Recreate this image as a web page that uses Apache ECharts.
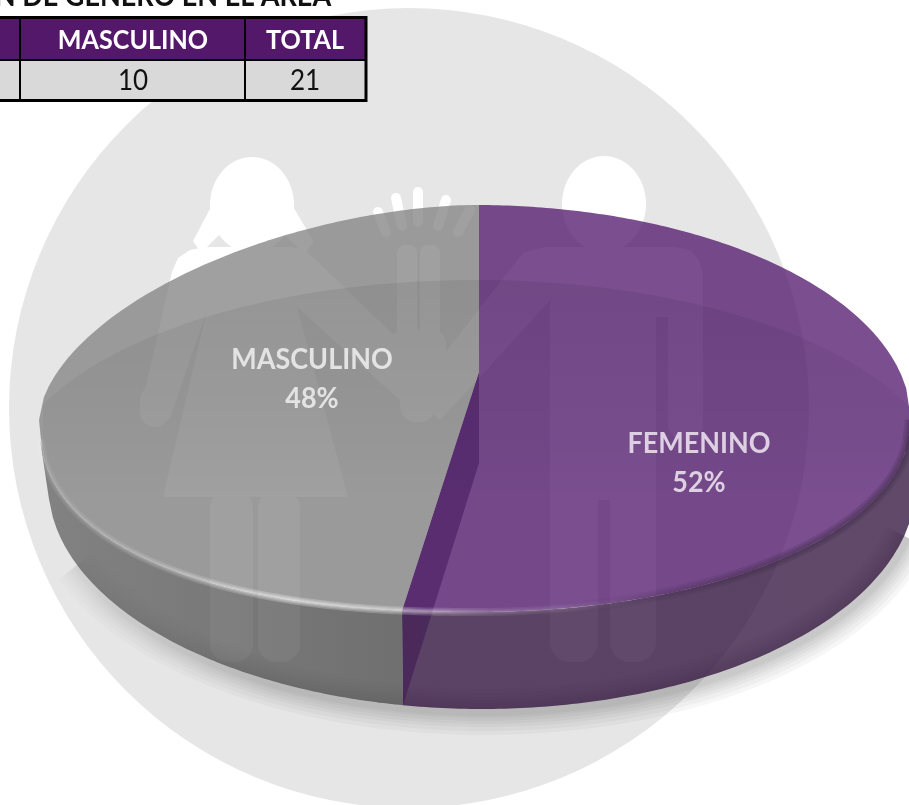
<!DOCTYPE html>
<html>
<head>
<meta charset="utf-8">
<style>html,body{margin:0;padding:0;background:#fff;overflow:hidden}#c{width:909px;height:805px}</style>
<script src="https://cdn.jsdelivr.net/npm/echarts@6/dist/echarts.min.js"></script>
</head>
<body>
<div id="c"></div>
<script>
var titleText = 'N DE GÉNERO EN EL ÁREA';
var categories = ['FEMENINO', 'MASCULINO'];
var values = [11, 10];
var tableHeaders = ['MASCULINO', 'TOTAL'];
var tableCells = ['10', '21'];

var FONT = 'Lato, Carlito, "Open Sans", sans-serif';
var total = values.reduce(function (a, b) { return a + b; }, 0);
var A = { x: 479, y: 372 };           // perspective centre of the disc
var T = { cx: 475, rx: 436, yc: 420, ru: 215, rl: 192 };
var B = { cx: 482, rx: 434, yc: 484, ry: 225 };
var K = 2.14;

function sup(s, p) { s = Math.min(1, Math.abs(s)); return Math.pow(Math.max(0, 1 - Math.pow(s, p)), 1 / p); }
function topUpper(x) { return T.yc - T.ru * sup((x - T.cx) / T.rx, x < T.cx ? 1.75 : 2); }
function topLower(x) { return T.yc + T.rl * sup((x - T.cx) / T.rx, x < T.cx ? 2.3 : 2.05); }
function botLower(x) { return B.yc + B.ry * sup((x - B.cx) / B.rx, 2); }
function range(a, b, n) { var r = [], i; for (i = 0; i <= n; i++) r.push(a + (b - a) * i / n); return r; }
var X0 = T.cx - T.rx, X1 = T.cx + T.rx, BX0 = 49, BX1 = 916;

function splitX() {
  var th = values[0] / total * 2 * Math.PI, x = A.x, i;
  var t = Math.tan(th);
  for (i = 0; i < 5; i++) x = A.x - K * t * (topLower(x) - A.y);
  return x;
}
function grad(x0, y0, x1, y1, stops) { return new echarts.graphic.LinearGradient(x0, y0, x1, y1, stops, true); }
function poly(points, style, z2) { return { type: 'polygon', z2: z2 || 0, shape: { points: points }, style: style }; }
function line(points, style, z2) {
  style.fill = null;
  return { type: 'polyline', z2: z2 || 0, shape: { points: points }, style: style };
}
function up(xs) { return xs.map(function (x) { return [x, topUpper(x)]; }); }
function low(xs) { return xs.map(function (x) { return [x, topLower(x)]; }); }
function bot(xs) { return xs.map(function (x) { return [x, botLower(x)]; }); }
function softLine(pts, stopsFn, widths, z2) {
  return widths.map(function (w) {
    return line(pts, { stroke: stopsFn(), lineWidth: w, lineJoin: 'round' }, z2);
  });
}

function renderSlice(params, api) {
  var i = params.dataIndex, sx = splitX(), children = [];
  if (i === 0) {
    // soft cast shadow under the wall
    var shadowPts = bot(range(75, 905, 90)).map(function (p) { return [p[0] + 2, p[1] + 3]; });
    children = children.concat(softLine(shadowPts, function () {
      return grad(50, 0, 909, 0, [{ offset: 0, color: 'rgba(0,0,0,0.01)' }, { offset: 0.25, color: 'rgba(0,0,0,0.03)' }, { offset: 1, color: 'rgba(0,0,0,0.035)' }]);
    }, [46, 38, 30, 24, 18, 12, 8], 0));
    // right wall
    children.push(poly(low(range(sx, X1, 90)).concat(bot(range(BX1 - 6, sx + 1, 90))),
      { fill: grad(400, 0, 909, 0, [{ offset: 0, color: 'rgba(45,12,58,0.75)' }, { offset: 1, color: 'rgba(42,12,54,0.75)' }]) }, 1));
    // right top face
    children.push(poly([[A.x, A.y]].concat(up(range(A.x, X1, 90))).concat(low(range(X1, sx, 110))),
      { fill: 'rgba(78,19,105,0.75)' }, 2));
  } else {
    children.push(poly(low(range(X0 + 1, sx, 90)).concat(bot(range(sx + 1, BX0, 90))),
      { fill: grad(50, 0, 404, 0, [{ offset: 0, color: 'rgba(96,96,96,0.75)' }, { offset: 0.5, color: 'rgba(84,84,84,0.75)' }, { offset: 1, color: 'rgba(72,72,72,0.75)' }]) }, 1));
    children.push(poly([[A.x, A.y]].concat(low(range(sx, X0, 110))).concat(up(range(X0, A.x, 90))),
      { fill: 'rgba(128,128,128,0.75)' }, 2));
  }
  return { type: 'group', children: children };
}

function renderDecor() {
  var sx = splitX(), children = [];
  // subtle darker inner band of the top face
  var xs = range(X0 + 4, X1 - 1, 130);
  var band = xs.map(function (x) {
    var yy = 486 - 206 * sup((x - 475) / 470, 2);
    return [x, Math.max(yy, topUpper(x))];
  }).concat(low(xs.slice().reverse()));
  children.push(poly(band, { fill: grad(0, 280, 0, 500, [{ offset: 0, color: 'rgba(0,0,0,0.07)' }, { offset: 0.55, color: 'rgba(0,0,0,0.04)' }, { offset: 1, color: 'rgba(0,0,0,0)' }]) }));
  // cut face of the purple slice
  children.push(poly([[A.x, A.y], [sx, topLower(sx)], [sx + 1, botLower(sx + 1)], [A.x, A.y + 91]],
    { fill: 'rgba(52,10,78,0.42)' }, 1));
  // dark soft edge, right part of the rim
  children = children.concat(softLine(low(range(560, X1, 90)), function () {
    return grad(560, 0, 780, 0, [{ offset: 0, color: 'rgba(55,35,65,0)' }, { offset: 1, color: 'rgba(60,40,70,0.2)' }]);
  }, [12, 8, 4], 2));
  // bright bevel of the rim
  children = children.concat(softLine(low(range(X0 + 1, 640, 150)), function () {
    return grad(40, 0, 640, 0, [
      { offset: 0, color: 'rgba(255,255,255,0.05)' }, { offset: 0.2, color: 'rgba(255,255,255,0.1)' },
      { offset: 0.42, color: 'rgba(255,255,255,0.24)' }, { offset: 0.6, color: 'rgba(255,255,255,0.2)' },
      { offset: 0.75, color: 'rgba(255,255,255,0.08)' }, { offset: 1, color: 'rgba(255,255,255,0)' }]);
  }, [8, 5, 2.5], 3));
  return { type: 'group', children: children };
}

var labelAnchors = [[699, 463], [312, 379]];
var labelColors = ['#ddd0e2', '#e3e3e3'];
function renderLabel(params, api) {
  var i = params.dataIndex;
  var pct = Math.round(api.value(0) / total * 100) + '%';
  var mk = function (t, dy) {
    return { type: 'text', x: labelAnchors[i][0], y: labelAnchors[i][1] + dy, scaleX: 0.93, style: { text: t, x: 0, y: 0, align: 'center', verticalAlign: 'middle', fill: labelColors[i], font: 'bold 29px ' + FONT } };
  };
  return { type: 'group', children: [mk(categories[i], -19), mk(pct, 20)] };
}

var W = '#ffffff';
function rr(x, y, w, h, r) { return { type: 'rect', z: 1, shape: { x: x, y: y, width: w, height: h, r: r }, style: { fill: W } }; }
function pg(points) { return { type: 'polygon', z: 1, shape: { points: points }, style: { fill: W } }; }
function finger(x1, y1, x2, y2, w) { return { type: 'line', z: 1, shape: { x1: x1, y1: y1, x2: x2, y2: y2 }, style: { stroke: W, lineWidth: w, lineCap: 'round' } }; }

var backdrop = [
  { type: 'circle', z: 0, shape: { cx: 409, cy: 408, r: 400 }, style: { fill: '#e6e6e6' } },
  // girl
  { type: 'ellipse', z: 1, shape: { cx: 252, cy: 205, rx: 42, ry: 48 }, style: { fill: W } },
  pg([[212, 205], [193, 241], [201, 253], [228, 226]]),
  pg([[292, 205], [314, 242], [304, 254], [276, 226]]),
  pg([[205, 247], [290, 247], [305, 250], [318, 262], [432, 372], [402, 402], [297, 307], [348, 497], [163, 497], [207, 310], [170, 418], [140, 412], [172, 272], [178, 258], [190, 250]]),
  rr(140, 385, 30, 42, 15),
  rr(210, 490, 43, 172, 18),
  rr(258, 490, 42, 172, 18),
  // joined hands
  rr(397, 245, 20, 105, 8),
  rr(420, 245, 20, 105, 8),
  rr(390, 330, 56, 44, 14),
  rr(400, 378, 36, 44, 16),
  finger(378, 212, 386, 232, 10),
  finger(396, 198, 402, 226, 10),
  finger(418, 192, 418, 222, 10),
  finger(446, 200, 438, 226, 10),
  finger(470, 210, 458, 232, 10),
  // boy
  { type: 'ellipse', z: 1, shape: { cx: 604, cy: 204, rx: 42, ry: 48 }, style: { fill: W } },
  pg([[545, 247], [675, 247], [690, 250], [699, 260], [703, 275], [703, 430], [668, 430], [668, 317], [656, 317], [656, 500], [550, 500], [550, 300], [480, 377], [440, 420], [412, 395], [523, 253]]),
  rr(668, 400, 35, 40, 16),
  rr(550, 450, 48, 212, 20),
  rr(610, 450, 46, 212, 20)
];

var INK = '#000000', HEAD = '#54186b', CELL = '#d9d9d9';
function gText(t, x, y, fill, font, va, sx) {
  return { type: 'text', z: 12, x: x, y: y, scaleX: sx, style: { text: t, x: 0, y: 0, align: 'center', verticalAlign: va || 'middle', fill: fill, font: font + ' ' + FONT } };
}
var tableEls = [
  gText(titleText, 163, 11, '#111', 'bold 30px', 'bottom', 0.9),
  { type: 'rect', z: 10, shape: { x: -2, y: 18, width: 367, height: 42 }, style: { fill: HEAD } },
  { type: 'rect', z: 10, shape: { x: -2, y: 60, width: 367, height: 40 }, style: { fill: CELL } },
  { type: 'rect', z: 11, shape: { x: -4, y: 17.5, width: 370, height: 83 }, style: { fill: null, stroke: INK, lineWidth: 3 } },
  { type: 'line', z: 11, shape: { x1: 0, y1: 60, x2: 366, y2: 60 }, style: { stroke: INK, lineWidth: 2 } },
  { type: 'line', z: 11, shape: { x1: 20, y1: 17, x2: 20, y2: 101 }, style: { stroke: INK, lineWidth: 2 } },
  { type: 'line', z: 11, shape: { x1: 245, y1: 17, x2: 245, y2: 101 }, style: { stroke: INK, lineWidth: 2 } },
  gText(tableHeaders[0], 133, 40, '#fff', 'bold 27px', 'middle', 0.93),
  gText(tableHeaders[1], 305, 40, '#fff', 'bold 27px', 'middle', 0.93),
  gText(tableCells[0], 133, 81, '#111', '28px', 'middle', 0.93),
  gText(tableCells[1], 305, 81, '#111', '28px', 'middle', 0.93)
];

var rows = categories.map(function (c, i) { return { name: c, value: [values[i]] }; });
var chart = echarts.init(document.getElementById('c'), null, { renderer: 'canvas' });
chart.setOption({
  animation: false,
  backgroundColor: '#ffffff',
  tooltip: { show: false },
  graphic: { elements: backdrop.concat(tableEls) },
  series: [
    { type: 'custom', name: 'slices', coordinateSystem: 'none', z: 2, silent: true, clip: false, renderItem: renderSlice, data: rows },
    { type: 'custom', name: 'decor', coordinateSystem: 'none', z: 3, silent: true, clip: false, renderItem: renderDecor, data: [rows[0]] },
    { type: 'custom', name: 'labels', coordinateSystem: 'none', z: 4, silent: true, clip: false, renderItem: renderLabel, data: rows }
  ]
});
</script>
</body>
</html>
